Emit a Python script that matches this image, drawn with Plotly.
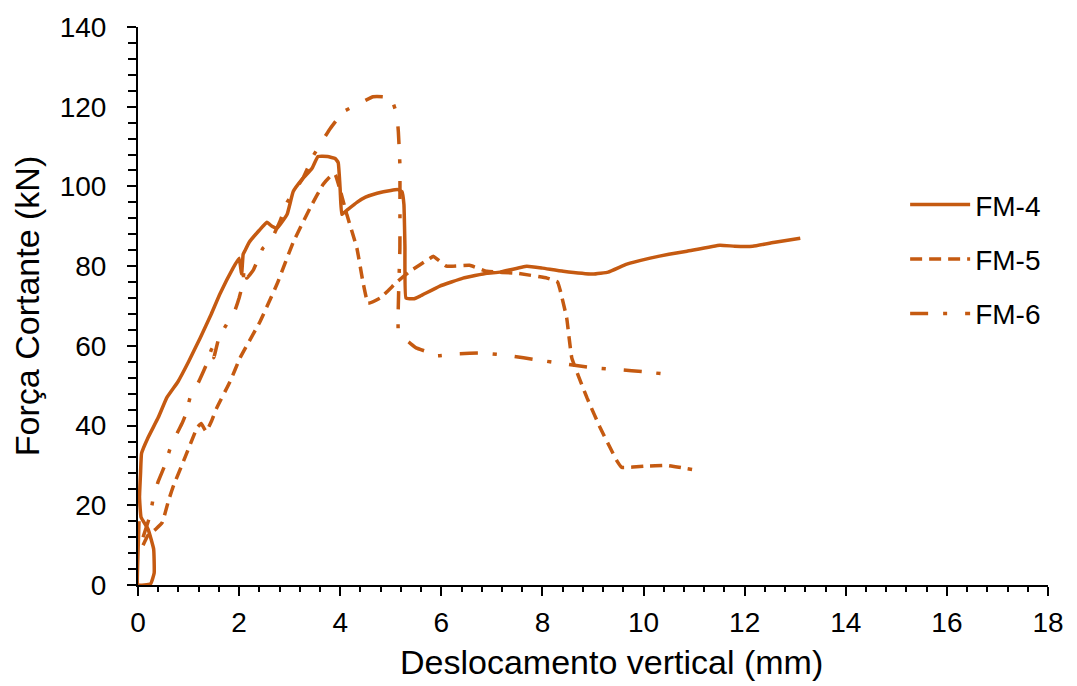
import plotly.graph_objects as go

# Deslocamento vertical (mm) x Força cortante (kN) para cada modelo
fm4_x = [0.02, 0.0, 0.0, 0.25, 0.32, 0.31, 0.2, 0.06, 0.03, 0.05, 0.07, 0.2, 0.4, 0.57, 0.79, 1.0, 1.23, 1.45,
         1.62, 1.88, 2.0, 2.05, 2.08, 2.12, 2.2, 2.4, 2.55, 2.65, 2.75, 2.95, 3.07, 3.26, 3.44, 3.56, 3.75, 3.9,
         3.96, 4.0, 4.03, 4.13, 4.33, 4.5, 4.73, 5.0, 5.14, 5.22, 5.26, 5.28, 5.3, 5.45, 5.58, 5.97, 6.43, 6.9,
         7.16, 7.69, 8.0, 8.41, 9.0, 9.3, 9.67, 10.13, 10.5, 10.86, 11.51, 11.8, 12.16, 12.6, 13.1]
fm4_y = [16, 8, 0, 0.3, 3, 9, 14, 17, 22, 28, 33, 37, 42, 47, 51, 56, 62, 68,
         73, 79.5, 82, 78, 83, 84, 86, 89, 91, 90, 89.5, 93, 98.7, 102, 104.5, 107.5, 107.5, 107,
         106, 99, 93, 94, 96, 97.3, 98.3, 99, 99.2, 98.7, 95.5, 85, 72, 71.8, 72.5, 75, 77, 78.2,
         78.5, 80, 79.5, 78.7, 78, 78.5, 80.5, 82, 83, 83.75, 85.25, 85, 85, 86, 87]

fm5_x = [0.1, 0.2, 0.35, 0.48, 0.6, 0.69, 0.93, 1.17, 1.25, 1.35, 1.45, 1.56, 1.82, 2.02, 2.41, 2.75, 3.07,
         3.4, 3.66, 3.8, 3.9, 4.0, 4.13, 4.33, 4.45, 4.55, 4.79, 5.12, 5.38, 5.78, 5.84, 6.1, 6.56, 6.9, 7.5,
         8.09, 8.3, 8.35, 8.48, 8.58, 8.88, 9.14, 9.47, 9.57, 10.0, 10.46, 10.96]
fm5_y = [10, 12.5, 14, 15.7, 21, 24.5, 32, 39.5, 40.5, 38.5, 41, 44.5, 51, 57, 66, 75.5, 86,
         94.5, 100.5, 102.5, 103, 99, 93, 84.5, 76, 70.7, 72, 76, 78.7, 82, 82.5, 80, 80.2, 78.7, 78.2,
         77, 76, 74, 67, 57, 47, 39.5, 31.2, 29.5, 29.8, 30, 29]

fm6_x = [0.1, 0.24, 0.3, 0.4, 0.53, 0.63, 0.77, 0.87, 0.95, 1.03, 1.19, 1.36, 1.45, 1.52, 1.5, 1.6, 1.78,
         1.92, 2.0, 2.08, 2.1, 2.15, 2.28, 2.47, 2.61, 2.8, 2.95, 3.26, 3.46, 3.6, 3.8, 4.06, 4.33, 4.65,
         4.85, 5.02, 5.12, 5.15, 5.18, 5.18, 5.15, 5.25, 5.38, 5.5, 5.72, 5.91, 6.3, 6.82, 7.36, 7.89,
         8.41, 9.0, 9.53, 10.0, 10.58]
fm6_y = [12, 17.5, 21.7, 26, 30, 34, 38, 40.5, 43, 47, 50.7, 55.5, 59, 60.5, 57, 62, 66,
         69, 72, 76, 80, 77, 79, 84.5, 86, 91, 96, 102, 107.5, 110.5, 114.5, 118.7, 120.5, 122.5,
         122.5, 121.7, 118, 113.7, 105.5, 84.5, 63.7, 62, 60.7, 59.5, 58.5, 57.5, 58, 58.2, 57.5, 56.5,
         55.5, 54.5, 54, 53.5, 52.7]

x_ticks = [0, 2, 4, 6, 8, 10, 12, 14, 16, 18]
y_ticks = [0, 20, 40, 60, 80, 100, 120, 140]

COR = "#C55A11"
FONTE = "Liberation Sans, Arial, sans-serif"
PRETO = "#000000"

fig = go.Figure()
series = [
    ("FM-4", fm4_x, fm4_y, "solid"),
    ("FM-5", fm5_x, fm5_y, "12px,7px"),
    ("FM-6", fm6_x, fm6_y, "18px,15px,4px,18px"),
]
for nome, xs, ys, dash in series:
    fig.add_trace(go.Scatter(
        x=xs, y=ys, name=nome, mode="lines", legendgroup=nome,
        line=dict(color=COR, width=3.5, dash=dash, shape="spline", smoothing=0.3),
    ))

fig.update_layout(
    width=1077, height=686,
    margin=dict(l=138, r=29, t=25, b=101),
    paper_bgcolor="white", plot_bgcolor="white",
    font=dict(family=FONTE, size=28, color=PRETO),
    showlegend=True,
    legend=dict(x=0.843, y=0.726, xanchor="left", yanchor="top",
                font=dict(size=28, family=FONTE, color=PRETO),
                tracegroupgap=15, itemwidth=60, bgcolor="rgba(0,0,0,0)"),
    # título do eixo horizontal, ligeiramente deslocado para a direita
    annotations=[dict(
        text="Deslocamento vertical (mm)", xref="paper", yref="paper",
        x=0.52, y=-0.1375, xanchor="center", yanchor="middle", showarrow=False,
        font=dict(size=34, family=FONTE, color=PRETO),
    )],
)

fig.update_xaxes(
    range=[0, 18], tickvals=x_ticks, ticktext=[str(v) for v in x_ticks],
    showgrid=False, zeroline=False, showline=True, linecolor=PRETO, linewidth=2,
    ticks="outside", ticklen=9, tickwidth=2, tickcolor=PRETO, ticklabelstandoff=2,
    minor=dict(dtick=0.4, ticks="outside", ticklen=5, tickwidth=2, tickcolor=PRETO, showgrid=False),
    tickfont=dict(size=28, family=FONTE),
)
fig.update_yaxes(
    range=[0, 140], tickvals=y_ticks, ticktext=[str(v) for v in y_ticks],
    showgrid=False, zeroline=False, showline=True, linecolor=PRETO, linewidth=2,
    ticks="outside", ticklen=9, tickwidth=2, tickcolor=PRETO, ticklabelstandoff=15,
    minor=dict(dtick=4, ticks="outside", ticklen=8, tickwidth=2, tickcolor=PRETO, showgrid=False),
    title=dict(text="Força Cortante (kN)", font=dict(size=34, family=FONTE), standoff=10),
    tickfont=dict(size=28, family=FONTE),
)

fig.write_html("out.html")
